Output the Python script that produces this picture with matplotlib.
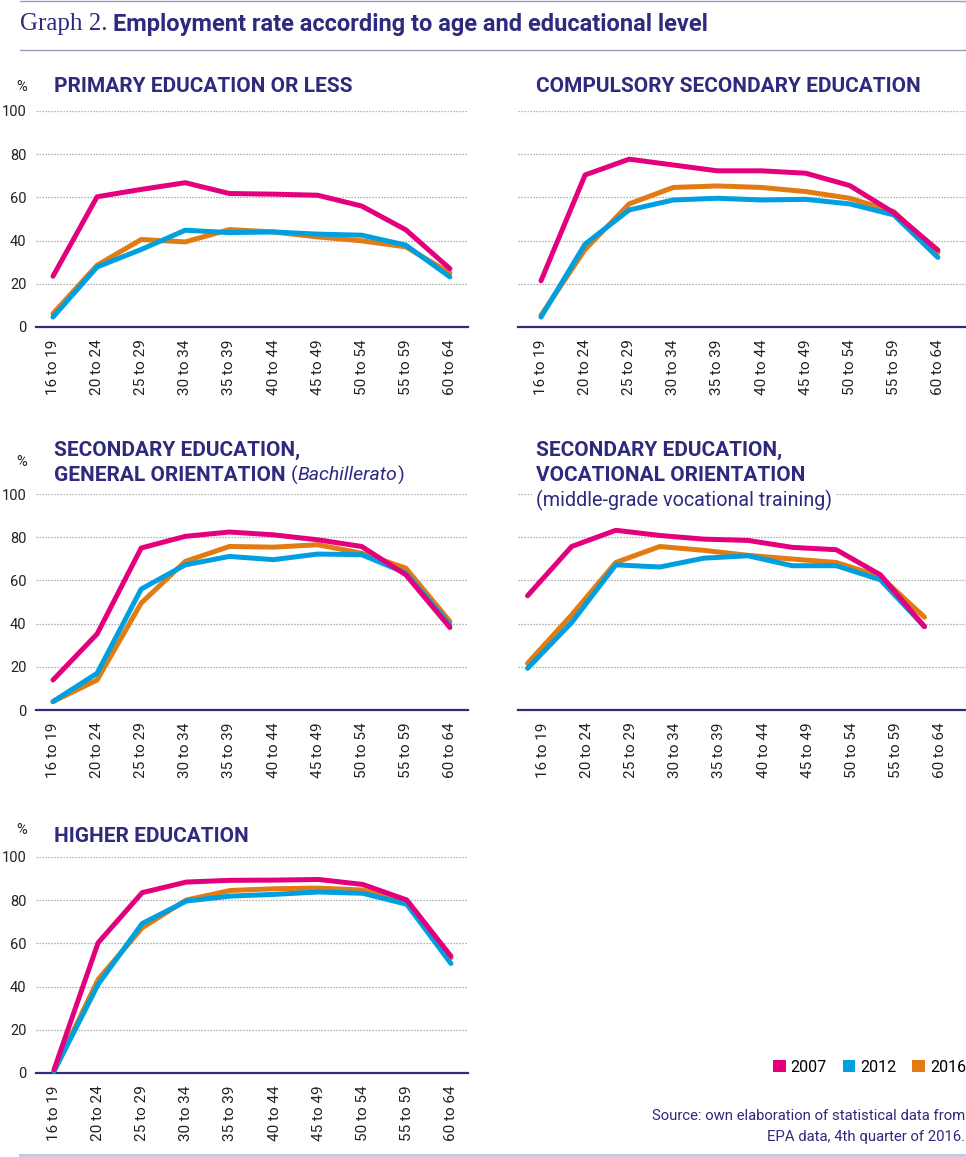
import numpy as np
import matplotlib.pyplot as plt
from matplotlib.patches import Patch
import matplotlib.transforms as mtransforms

W, H = 966, 1157
NAVY = '#2e2a7d'
SANS = ['Roboto', 'DejaVu Sans']

ages = ['16 to 19', '20 to 24', '25 to 29', '30 to 34', '35 to 39',
        '40 to 44', '45 to 49', '50 to 54', '55 to 59', '60 to 64']
years = ['2007', '2012', '2016']
colors = {'2007': '#e4007d', '2012': '#00a0e0', '2016': '#e27c12'}

primary_2007 = [23.5, 60.3, 63.7, 66.8, 61.8, 61.5, 61.0, 56.0, 45.0, 27.0]
primary_2012 = [4.6, 27.8, 35.9, 44.8, 43.7, 44.0, 43.0, 42.5, 37.9, 23.2]
primary_2016 = [6.2, 28.6, 40.5, 39.4, 45.1, 44.0, 41.7, 39.9, 37.1, 25.0]

compulsory_2007 = [21.4, 70.4, 77.7, 75.0, 72.3, 72.3, 71.2, 65.5, 52.9, 35.6]
compulsory_2012 = [4.6, 38.4, 54.2, 58.8, 59.6, 58.8, 59.1, 57.0, 51.9, 32.2]
compulsory_2016 = [5.4, 35.9, 57.0, 64.6, 65.3, 64.6, 62.7, 59.6, 53.4, 34.5]

general_2007 = [13.9, 35.2, 75.0, 80.4, 82.4, 81.1, 78.8, 75.7, 62.6, 38.2]
general_2012 = [3.9, 17.0, 56.0, 67.2, 71.1, 69.6, 72.2, 71.9, 63.4, 39.4]
general_2016 = [3.9, 13.9, 49.5, 68.8, 75.7, 75.4, 76.5, 72.6, 65.7, 41.0]

vocational_2007 = [52.9, 75.7, 83.2, 80.8, 79.1, 78.5, 75.3, 74.2, 62.6, 38.6]
vocational_2012 = [19.3, 40.5, 67.2, 66.2, 70.3, 71.4, 66.8, 66.8, 60.3, 38.6]
vocational_2016 = [21.6, 44.0, 68.3, 75.7, 73.9, 71.6, 69.9, 68.3, 61.8, 43.0]

higher_2007 = [1.5, 60.3, 83.5, 88.4, 89.2, 89.3, 89.6, 87.3, 80.1, 54.1]
higher_2012 = [0.8, 41.0, 69.2, 79.6, 81.9, 82.7, 83.8, 83.2, 78.1, 50.7]
higher_2016 = [0.8, 43.3, 67.2, 80.1, 84.5, 85.3, 85.6, 84.7, 79.1, 53.3]

yticks = [0, 20, 40, 60, 80, 100]


def fx(x):
    return x / W


def fy(y):
    return 1 - y / H


fig = plt.figure(figsize=(W / 100, H / 100), dpi=100)


def panel(left, right, base, first_x, series, show_y, shift=0.0):
    ax = fig.add_axes([fx(left), fy(base), (right - left) / W, 216 / H])
    sp = 44.1
    ax.set_xlim((left - first_x) / sp, (right - first_x) / sp)
    ax.set_ylim(0, 100)
    for s in ['top', 'right', 'left']:
        ax.spines[s].set_visible(False)
    ax.spines['bottom'].set_color(NAVY)
    ax.spines['bottom'].set_linewidth(1.6)
    for v in yticks[1:]:
        ax.axhline(v, color='#9a9a9a', lw=0.9, ls=(0, (1, 1.4)), zorder=1)
    x = np.arange(len(ages))
    for yr in ['2016', '2012', '2007']:
        ax.plot(x + shift, series[yr], color=colors[yr], lw=3.6,
                solid_capstyle='round', solid_joinstyle='round',
                clip_on=False, zorder=3)
    ax.set_xticks(x)
    ax.set_xticklabels(ages, rotation=90, fontsize=11, color='#222222',
                       family=SANS)
    ax.tick_params(axis='x', length=0, pad=9)
    ax.set_yticks(yticks)
    if show_y:
        ax.set_yticklabels([str(v) for v in yticks], fontsize=10.5,
                           color='#222222', family=SANS)
        off = mtransforms.ScaledTranslation(0, 4 / 100, fig.dpi_scale_trans)
        for lab in ax.get_yticklabels():
            lab.set_transform(lab.get_transform() + off)
    else:
        ax.set_yticklabels([])
    ax.tick_params(axis='y', length=0, pad=7)
    return ax


panel(36, 468, 327, 53,
      {'2007': primary_2007, '2012': primary_2012, '2016': primary_2016}, True)
panel(518, 966, 327, 541,
      {'2007': compulsory_2007, '2012': compulsory_2012, '2016': compulsory_2016}, False)
panel(36, 468, 710, 53,
      {'2007': general_2007, '2012': general_2012, '2016': general_2016}, True)
panel(518, 966, 710, 543,
      {'2007': vocational_2007, '2012': vocational_2012, '2016': vocational_2016},
      False, shift=-0.35)
panel(36, 468, 1073, 54,
      {'2007': higher_2007, '2012': higher_2012, '2016': higher_2016}, True)

renderer = fig.canvas.get_renderer()
TS = 15


def pieces(x, y, parts):
    # parts: list of (text, weight, style, size)
    for txt, weight, style, size in parts:
        t = fig.text(fx(x), fy(y), txt, fontsize=size, fontweight=weight,
                     fontstyle=style, color=NAVY, family=SANS,
                     va='center', ha='left')
        bb = t.get_window_extent(renderer)
        x += bb.width


def title(x, y, txt):
    fig.text(fx(x), fy(y), txt, fontsize=TS, fontweight='bold', color=NAVY,
             family=SANS, va='center', ha='left')


def pct(y):
    fig.text(fx(16), fy(y), '%', fontsize=10.5, color='#222222', family=SANS,
             va='center', ha='left')


# header
fig.add_artist(plt.Line2D([fx(20), 1], [fy(0.5), fy(0.5)], color='#9b98c4', lw=1))
fig.add_artist(plt.Line2D([fx(20), 1], [fy(50), fy(50)], color='#9b98c4', lw=1))
fig.text(fx(20), fy(24), 'Graph 2.', fontsize=18, color=NAVY,
         family=['Liberation Serif', 'DejaVu Serif'], va='center', ha='left')
fig.text(fx(113), fy(24), 'Employment rate according to age and educational level',
         fontsize=17, fontweight='bold', color=NAVY, family=SANS,
         va='center', ha='left')

title(54, 87, 'PRIMARY EDUCATION OR LESS')
pct(87)
title(536, 87, 'COMPULSORY SECONDARY EDUCATION')

title(54, 450, 'SECONDARY EDUCATION,')
pieces(54, 475, [('GENERAL ORIENTATION ', 'bold', 'normal', TS),
                 ('(', 'normal', 'normal', 14),
                 ('Bachillerato', 'normal', 'italic', 14),
                 (')', 'normal', 'normal', 14)])
pct(462)

title(536, 450, 'SECONDARY EDUCATION,')
title(536, 475, 'VOCATIONAL ORIENTATION')
fig.text(fx(536), fy(500), '(middle-grade vocational training)', fontsize=14.2,
         color=NAVY, family=SANS, va='center', ha='left',
         bbox=dict(facecolor='white', edgecolor='none', pad=2))

title(54, 836, 'HIGHER EDUCATION')
pct(830)

# legend
handles = [Patch(facecolor=colors[y], edgecolor='none', label=y) for y in years]
fig.legend(handles=handles, loc='center right', bbox_to_anchor=(fx(966), fy(1067)),
           ncol=3, frameon=False, handlelength=0.8, handleheight=0.8,
           handletextpad=0.3, columnspacing=1.0, borderpad=0, borderaxespad=0,
           prop={'family': SANS, 'size': 11.5})

fig.text(fx(965), fy(1116), 'Source: own elaboration of statistical data from',
         fontsize=10.7, color=NAVY, family=SANS, ha='right', va='center')
fig.text(fx(965), fy(1137), 'EPA data, 4th quarter of 2016.',
         fontsize=10.7, color=NAVY, family=SANS, ha='right', va='center')

fig.add_artist(plt.Line2D([fx(20), 1], [fy(1155), fy(1155)], color='#c8c6e0', lw=2.2))

fig.savefig('out.png', dpi=100)
